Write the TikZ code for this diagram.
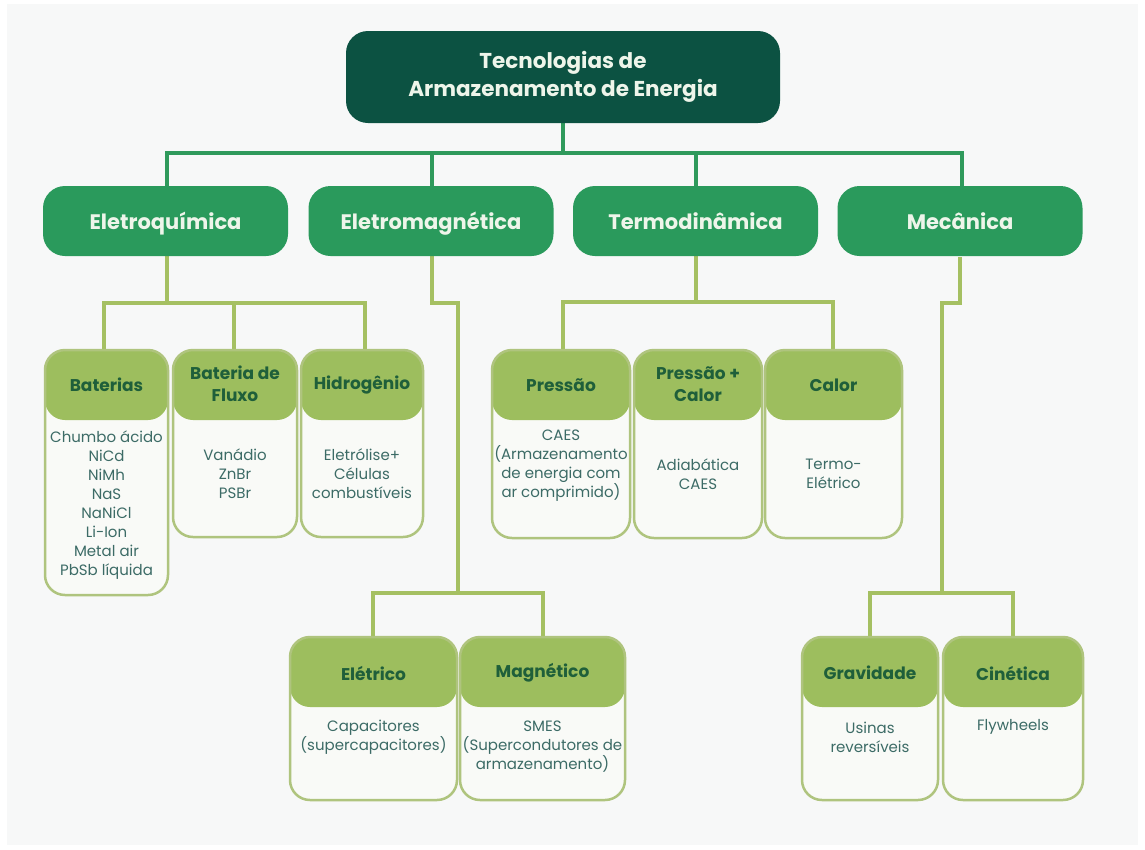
\documentclass[tikz,border=0pt]{standalone}
\usepackage{fontspec}
\setmainfont{Poppins}
\definecolor{pagebg}{HTML}{F7F8F8}
\definecolor{rootc}{HTML}{0C5242}
\definecolor{catc}{HTML}{2A9A5C}
\definecolor{busc}{HTML}{2F9A5C}
\definecolor{twig}{HTML}{A5C062}
\definecolor{hdrc}{HTML}{9DBE5E}
\definecolor{subb}{HTML}{AFC47E}
\definecolor{bodyc}{HTML}{F9FAF7}
\definecolor{lighttxt}{HTML}{EEF5EA}
\definecolor{hdrtxt}{HTML}{1F5F3A}
\definecolor{bodytxt}{HTML}{3C6B66}
\tikzset{
  rootbox/.style={rounded corners=22pt, fill=rootc, minimum width=434pt, minimum height=92pt,
    inner sep=0pt, text=lighttxt, align=center, font=\bfseries\fontsize{21.5}{28}\selectfont},
  catbox/.style={rounded corners=22pt, fill=catc, minimum width=245pt, minimum height=70pt,
    inner sep=0pt, text height=16pt, text depth=0pt, text=lighttxt,
    font=\bfseries\fontsize{21}{26}\selectfont},
  subbox/.style={draw=subb, line width=2.5pt, rounded corners=20pt, fill=bodyc, inner sep=0pt,
    path picture={\fill[hdrc] ([yshift=3pt]path picture bounding box.north west)
      rectangle ([yshift=-70pt]path picture bounding box.north east);}},
  subttl/.style={text=hdrtxt, align=center, inner sep=0pt, font=\bfseries\fontsize{17}{22}\selectfont},
  subtxt/.style={text=bodytxt, align=center, inner sep=0pt, font=\fontsize{15}{19}\selectfont},
  busline/.style={draw=busc, line width=3.5pt},
  twigline/.style={draw=twig, line width=4pt},
}
\begin{document}
\begin{tikzpicture}[x=1pt, y=-1pt]
\useasboundingbox (0,0) rectangle (1145,849);
\fill[white] (0,0) rectangle (1145,849);
\fill[pagebg] (7,4) rectangle (1138,845);

% junction points of the connector tree
\coordinate (bus) at (563,153);
\coordinate (eqj) at (167,303);
\coordinate (tdj) at (696,302);
\coordinate (emk) at (458,303);
\coordinate (emj) at (458,593);
\coordinate (mck) at (942,303);
\coordinate (mcj) at (942,593);

% connectors (drawn first, boxes cover their ends)
\draw[busline] (563,123) -- (bus);
\draw[busline] (167,186) |- (bus);
\draw[busline] (432,186) |- (bus);
\draw[busline] (696,186) |- (bus);
\draw[busline] (962,186) |- (bus);

\draw[twigline] (167,256) -- (eqj);
\draw[twigline] (104,350) |- (eqj);
\draw[twigline] (234,350) |- (eqj);
\draw[twigline] (365,350) |- (eqj);

\draw[twigline] (696,256) -- (tdj);
\draw[twigline] (563,350) |- (tdj);
\draw[twigline] (833,350) |- (tdj);

\draw[twigline] (432,256) |- (emk) -- (emj);
\draw[twigline] (373,637) |- (emj);
\draw[twigline] (543,637) |- (emj);

\draw[twigline] (960,257) |- (mck) -- (mcj);
\draw[twigline] (870,637) |- (mcj);
\draw[twigline] (1013,637) |- (mcj);

% root and categories
\node[rootbox] (root) at (563,77) {Tecnologias de\\Armazenamento de Energia};
\node[catbox] (eq) at (165.5,221) {Eletroquímica};
\node[catbox] (em) at (431,221) {Eletromagnética};
\node[catbox] (td) at (695.5,221) {Termodinâmica};
\node[catbox] (mec) at (960,221) {Mecânica};

% electrochemical
\node[subbox, minimum width=123pt, minimum height=245pt] (bat) at (106.5,472.5) {};
\node[subttl] (bat-t) at (106.5,385) {Baterias};
\node[subtxt] (bat-b) at (106.5,505) {Chumbo ácido\\NiCd\\NiMh\\NaS\\NaNiCl\\Li-Ion\\Metal air\\PbSb líquida};

\node[subbox, minimum width=124pt, minimum height=187pt] (flx) at (235,443.5) {};
\node[subttl] (flx-t) at (235,384) {Bateria de\\Fluxo};
\node[subtxt] (flx-b) at (235,474) {Vanádio\\ZnBr\\PSBr};

\node[subbox, minimum width=122pt, minimum height=187pt] (hid) at (362,443.5) {};
\node[subttl] (hid-t) at (362,385) {Hidrogênio};
\node[subtxt] (hid-b) at (362,474) {Eletrólise+\\Células\\combustíveis};

% thermodynamic
\node[subbox, minimum width=138pt, minimum height=188pt] (pre) at (561,444) {};
\node[subttl] (pre-t) at (561,385) {Pressão};
\node[subtxt] (pre-b) at (561,466) {CAES\\(Armazenamento\\de energia com\\ar comprimido)};

\node[subbox, minimum width=128pt, minimum height=188pt] (prc) at (698,444) {};
\node[subttl] (prc-t) at (698,384) {Pressão +\\Calor};
\node[subtxt] (prc-b) at (698,474) {Adiabática\\CAES};

\node[subbox, minimum width=137pt, minimum height=188pt] (cal) at (833.5,444) {};
\node[subttl] (cal-t) at (833.5,385) {Calor};
\node[subtxt] (cal-b) at (833.5,474) {Termo-\\Elétrico};

% electromagnetic
\node[subbox, minimum width=167pt, minimum height=163pt] (ele) at (373.5,718.5) {};
\node[subttl] (ele-t) at (373.5,673) {Elétrico};
\node[subtxt] (ele-b) at (373.5,737) {Capacitores\\(supercapacitores)};

\node[subbox, minimum width=165pt, minimum height=163pt] (mag) at (542.5,718.5) {};
\node[subttl] (mag-t) at (542.5,673) {Magnético};
\node[subtxt] (mag-b) at (542.5,747) {SMES\\(Supercondutores de\\armazenamento)};

% mechanical
\node[subbox, minimum width=136pt, minimum height=163pt] (gra) at (870,718.5) {};
\node[subttl] (gra-t) at (870,673) {Gravidade};
\node[subtxt] (gra-b) at (870,737) {Usinas\\reversíveis};

\node[subbox, minimum width=140pt, minimum height=163pt] (cin) at (1013,718.5) {};
\node[subttl] (cin-t) at (1013,673) {Cinética};
\node[subtxt] (cin-b) at (1013,727) {Flywheels};
\end{tikzpicture}
\end{document}
